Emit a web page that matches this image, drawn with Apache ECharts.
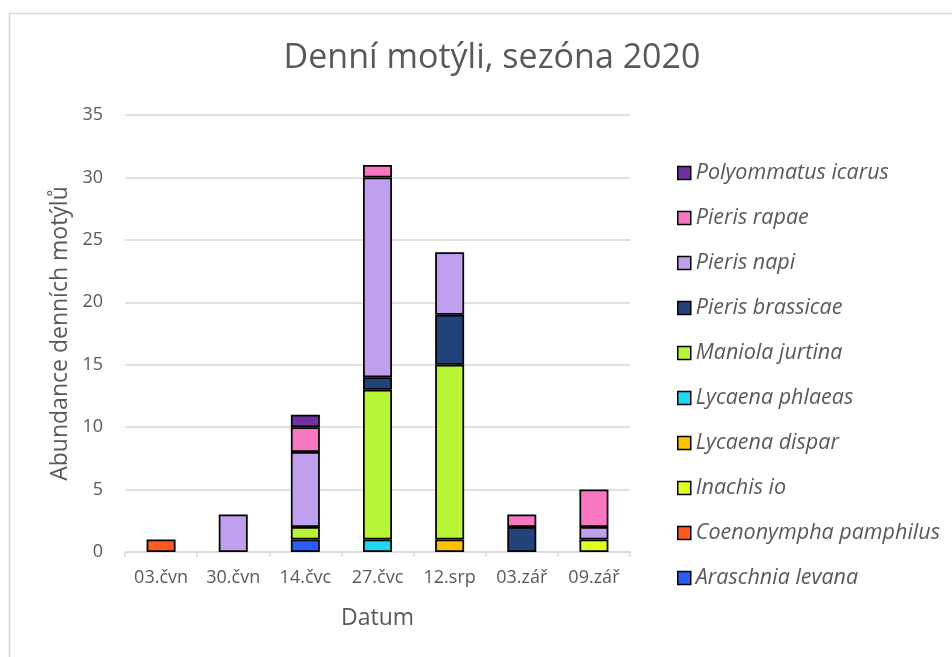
<!DOCTYPE html>
<html>
<head>
<meta charset="utf-8">
<script src="https://cdn.jsdelivr.net/npm/echarts@6/dist/echarts.min.js"></script>
<style>html,body{margin:0;padding:0;background:#fff}#c{width:952px;height:657px}</style>
</head>
<body>
<div id="c"></div>
<script>
const categories = ['03.čvn','30.čvn','14.čvc','27.čvc','12.srp','03.zář','09.zář'];
const araschniaLevana = [0,0,1,0,0,0,0];
const coenonymphaPamphilus = [1,0,0,0,0,0,0];
const inachisIo = [0,0,0,0,0,0,1];
const lycaenaDispar = [0,0,0,0,1,0,0];
const lycaenaPhlaeas = [0,0,0,1,0,0,0];
const maniolaJurtina = [0,0,1,12,14,0,0];
const pierisBrassicae = [0,0,0,1,4,2,0];
const pierisNapi = [0,3,6,16,5,0,1];
const pierisRapae = [0,0,2,1,0,1,3];
const polyommatusIcarus = [0,0,1,0,0,0,0];
const yTicks = [0,5,10,15,20,25,30,35];

const seriesDefs = [
  ['Araschnia levana', araschniaLevana, '#2b5cf5'],
  ['Coenonympha pamphilus', coenonymphaPamphilus, '#ff5a1f'],
  ['Inachis io', inachisIo, '#e0ff1f'],
  ['Lycaena dispar', lycaenaDispar, '#ffc000'],
  ['Lycaena phlaeas', lycaenaPhlaeas, '#1fd7f5'],
  ['Maniola jurtina', maniolaJurtina, '#b8f536'],
  ['Pieris brassicae', pierisBrassicae, '#22427a'],
  ['Pieris napi', pierisNapi, '#c0a0ee'],
  ['Pieris rapae', pierisRapae, '#f778c0'],
  ['Polyommatus icarus', polyommatusIcarus, '#7030a0']
];

const chart = echarts.init(document.getElementById('c'), null, {renderer:'canvas'});
const font = '"Open Sans", sans-serif';
chart.setOption({
  animation: false,
  textStyle: {fontFamily: font},
  graphic: [{type:'rect', shape:{x:9.5,y:13.5,width:1000,height:700}, style:{fill:'none', stroke:'#d9d9d9', lineWidth:1.5}, silent:true}],
  title: {text:'Denní motýli, sezóna 2020', left:487, top:36, textAlign:'center',
    textStyle:{fontFamily:font, fontSize:34, fontWeight:'normal', color:'#595959'}},
  grid: {left:125, right:322, top:115, bottom:105, containLabel:false},
  legend: {
    orient:'vertical', left:677, top:162, padding:0,
    data: seriesDefs.map(s=>s[0]).reverse(),
    icon:'rect', itemWidth:13, itemHeight:13, itemGap:23, itemTextGap:7,
    textStyle:{fontFamily:font, fontSize:21.5, fontStyle:'italic', color:'#595959'},
    itemStyle:{borderColor:'#000', borderWidth:1.5}
  },
  xAxis: {
    type:'category', data:categories, name:'Datum', nameLocation:'middle', nameGap:55,
    nameTextStyle:{fontFamily:font, fontSize:23, color:'#595959'},
    axisLine:{lineStyle:{color:'#d9d9d9', width:1.5}},
    axisTick:{show:true, length:5, lineStyle:{color:'#d9d9d9', width:1.5}},
    axisLabel:{fontFamily:font, fontSize:18, color:'#595959', margin:17}
  },
  yAxis: {
    type:'value', min:yTicks[0], max:yTicks[yTicks.length-1], interval:5,
    name:'Abundance denních motýlů', nameLocation:'middle', nameGap:52,
    nameTextStyle:{fontFamily:font, fontSize:23, color:'#595959'},
    axisLine:{show:false}, axisTick:{show:false},
    splitLine:{lineStyle:{color:'#d9d9d9', width:1.5}},
    axisLabel:{fontFamily:font, fontSize:18, color:'#595959', margin:22}
  },
  series: seriesDefs.map(([name, vals, color]) => ({
    name, type:'bar', stack:'total', barWidth:29,
    data: vals.map(v => v === 0 ? '-' : v),
    itemStyle:{color, borderColor:'#000', borderWidth:1.75}
  }))
});
</script>
</body>
</html>
